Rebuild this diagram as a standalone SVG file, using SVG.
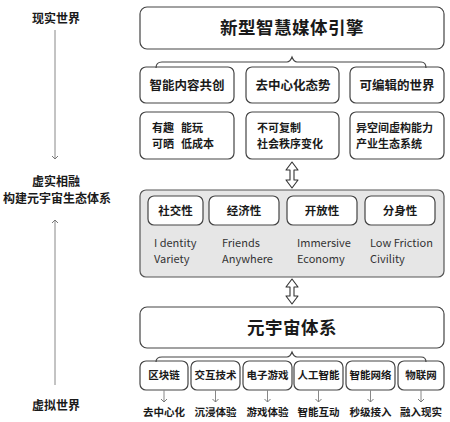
<svg xmlns="http://www.w3.org/2000/svg" width="450" height="422" viewBox="0 0 450 422">
<defs>
<style>
text{font-family:"Noto Sans CJK SC","Noto Sans",sans-serif;fill:#1a1a1a}
.box{fill:#fff;stroke:#444;stroke-width:1.2}
.panel{fill:#e6e6e6;stroke:#555;stroke-width:1.2}
.title{font-size:17.5px;font-weight:bold;text-anchor:middle;letter-spacing:0.5px}
.h2{font-size:12.5px;font-weight:bold;text-anchor:middle}
.sub{font-size:11px;font-weight:bold}
.p{font-size:11.5px;font-weight:bold;text-anchor:middle}
.en{font-size:11px;fill:#333}
.sm{font-size:10.5px;font-weight:bold;text-anchor:middle}
.side{font-size:12px;font-weight:bold;text-anchor:middle}
.brace{fill:none;stroke:#444;stroke-width:1.2}
.thin{stroke:#888;stroke-width:1;fill:none}
.dbl{fill:#fff;stroke:#333;stroke-width:1.1;stroke-linejoin:round}
</style>
<marker id="ah" markerWidth="8" markerHeight="8" refX="4" refY="4" orient="auto" markerUnits="userSpaceOnUse">
<path d="M1,1 L4,4 L1,7" fill="none" stroke="#777" stroke-width="1"/>
</marker>
</defs>

<g id="side-labels">
<text class="side" x="56" y="23">现实世界</text>
<text class="side" x="56" y="186">虚实相融</text>
<text class="side" x="57" y="203">构建元宇宙生态体系</text>
<text class="side" x="56" y="410">虚拟世界</text>
</g>

<g id="engine">
<rect class="box" x="140" y="7" width="304" height="42" rx="7"/>
<text class="title" x="292" y="34">新型智慧媒体引擎</text>
</g>

<g id="row2">
<rect class="box" x="140" y="67" width="94" height="36" rx="6"/>
<text class="h2" x="187" y="90">智能内容共创</text>
<rect class="box" x="246" y="67" width="93" height="36" rx="6"/>
<text class="h2" x="293" y="90">去中心化态势</text>
<rect class="box" x="350" y="67" width="94" height="36" rx="6"/>
<text class="h2" x="397" y="90">可编辑的世界</text>
</g>

<g id="row3">
<rect class="box" x="140" y="112" width="94" height="47" rx="6"/>
<text class="sub" x="152" y="132">有趣</text>
<text class="sub" x="181" y="132">能玩</text>
<text class="sub" x="152" y="148">可晒</text>
<text class="sub" x="181" y="148">低成本</text>
<rect class="box" x="246" y="112" width="93" height="47" rx="6"/>
<text class="sub" x="257" y="132">不可复制</text>
<text class="sub" x="257" y="148">社会秩序变化</text>
<rect class="box" x="350" y="112" width="94" height="47" rx="6"/>
<text class="sub" x="356" y="132">异空间虚构能力</text>
<text class="sub" x="356" y="148">产业生态系统</text>
</g>

<g id="panel">
<rect class="panel" x="140" y="190" width="304" height="87" rx="6"/>
<rect class="box" x="148" y="196" width="55" height="29" rx="6"/>
<text class="p" x="175.5" y="215">社交性</text>
<rect class="box" x="209" y="196" width="70" height="29" rx="6"/>
<text class="p" x="244" y="215">经济性</text>
<rect class="box" x="287" y="196" width="70" height="29" rx="6"/>
<text class="p" x="322" y="215">开放性</text>
<rect class="box" x="365" y="196" width="70" height="29" rx="6"/>
<text class="p" x="400" y="215">分身性</text>
<text class="en" x="154" y="247">I dentity</text>
<text class="en" x="154" y="263">Variety</text>
<text class="en" x="222" y="247">Friends</text>
<text class="en" x="222" y="263">Anywhere</text>
<text class="en" x="297" y="247">Immersive</text>
<text class="en" x="297" y="263">Economy</text>
<text class="en" x="370" y="247">Low Friction</text>
<text class="en" x="370" y="263">Civility</text>
</g>

<g id="metaverse">
<rect class="box" x="140" y="307" width="304" height="41" rx="7"/>
<text class="title" x="292" y="334">元宇宙体系</text>
</g>

<g id="tech">
<rect class="box" x="140" y="361" width="48" height="29" rx="6"/>
<text class="sm" x="164" y="379">区块链</text>
<rect class="box" x="191" y="361" width="49" height="29" rx="6"/>
<text class="sm" x="215.5" y="379">交互技术</text>
<rect class="box" x="243" y="361" width="49" height="29" rx="6"/>
<text class="sm" x="267.5" y="379">电子游戏</text>
<rect class="box" x="294" y="361" width="49" height="29" rx="6"/>
<text class="sm" x="318.5" y="379">人工智能</text>
<rect class="box" x="346" y="361" width="49" height="29" rx="6"/>
<text class="sm" x="370.5" y="379">智能网络</text>
<rect class="box" x="398" y="361" width="46" height="29" rx="6"/>
<text class="sm" x="421" y="379">物联网</text>
<text class="sm" x="164" y="416">去中心化</text>
<text class="sm" x="215.5" y="416">沉浸体验</text>
<text class="sm" x="267.5" y="416">游戏体验</text>
<text class="sm" x="318.5" y="416">智能互动</text>
<text class="sm" x="370.5" y="416">秒级接入</text>
<text class="sm" x="421" y="416">融入现实</text>
</g>

<g id="connectors">
<line class="thin" x1="55" y1="30" x2="55" y2="159" marker-end="url(#ah)"/>
<line class="thin" x1="55" y1="385" x2="55" y2="220" marker-end="url(#ah)"/>
<path class="brace" d="M156,68 Q156,62 162,62 L287,62 Q290,62 292,57 Q294,62 297,62 L421,62 Q426,62 426,68"/>
<path class="brace" d="M156,362 Q156,357 162,357 L287,357 Q290,357 292,352 Q294,357 297,357 L421,357 Q426,357 426,362"/>
<path class="dbl" d="M292,162 L298,170 L294,170 L294,180 L298,180 L292,188 L286,180 L290,180 L290,170 L286,170 Z"/>
<path class="dbl" d="M292,279 L298,287 L294,287 L294,296 L298,296 L292,304 L286,296 L290,296 L290,287 L286,287 Z"/>
<line class="thin" x1="164" y1="390" x2="164" y2="402" marker-end="url(#ah)"/>
<line class="thin" x1="215.5" y1="390" x2="215.5" y2="402" marker-end="url(#ah)"/>
<line class="thin" x1="267.5" y1="390" x2="267.5" y2="402" marker-end="url(#ah)"/>
<line class="thin" x1="318.5" y1="390" x2="318.5" y2="402" marker-end="url(#ah)"/>
<line class="thin" x1="370.5" y1="390" x2="370.5" y2="402" marker-end="url(#ah)"/>
<line class="thin" x1="421" y1="390" x2="421" y2="402" marker-end="url(#ah)"/>
</g>
</svg>
